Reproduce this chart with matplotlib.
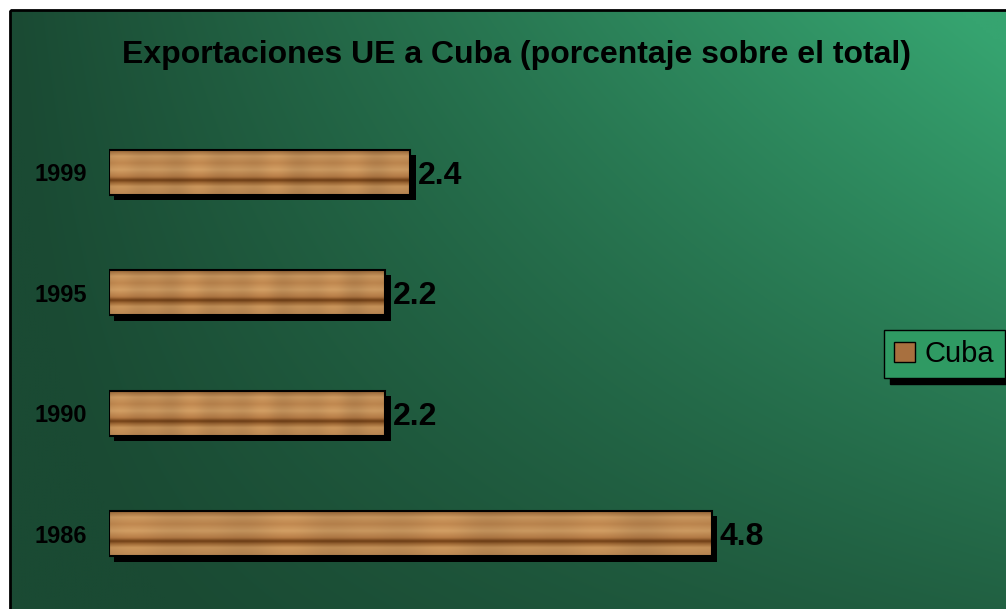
import numpy as np
import matplotlib
matplotlib.use("Agg")
import matplotlib.pyplot as plt
from matplotlib.patches import Rectangle, Patch
import matplotlib.patheffects as pe

plt.rcParams['font.family'] = ['Liberation Sans', 'DejaVu Sans']

years = ["1986", "1990", "1995", "1999"]
values = [4.8, 2.2, 2.2, 2.4]
value_labels = ["4.8", "2.2", "2.2", "2.4"]
series_name = "Cuba"
title = "Exportaciones UE a Cuba (porcentaje sobre el total)"

W, H = 1006, 609
fig = plt.figure(figsize=(W / 100, H / 100), dpi=100)

# background panel with green gradient and black frame
bg = fig.add_axes([0, 0, 1, 1], zorder=-1)
bg.set_xlim(0, W)
bg.set_ylim(H, 0)
bg.axis("off")
gx = np.linspace(0, 1, 300)
gy = np.linspace(0, 1, 200)
X, Y = np.meshgrid(gx, gy)
t = np.clip(X * (1.05 - 0.75 * Y) - 0.05 * Y, 0, 1)
dark = np.array([0x1a, 0x4a, 0x33]) / 255
light = np.array([0x36, 0xa4, 0x70]) / 255
img = dark + (light - dark) * t[..., None]
bg.imshow(img, extent=[10, W + 2, H + 2, 10], aspect="auto", interpolation="bilinear")
bg.add_patch(Rectangle((10, 10), W, H, fill=False, edgecolor="black", linewidth=2))

# main chart
ax = fig.add_axes([109 / W, (H - 594) / H, (988 - 109) / W, (594 - 112) / H])
ax.patch.set_alpha(0)
pos = np.arange(len(years))
bh = 0.375
bars = ax.barh(pos, values, height=bh, color="#b07a45", edgecolor="none", zorder=2)
for b in bars:
    b.set_path_effects([pe.SimplePatchShadow(offset=(3.8, -3.8), shadow_rgbFace="black", alpha=1), pe.Normal()])

# wood-like texture inside each bar
ty = np.linspace(0, 1, 60)
stops_y = [0.0, 0.15, 0.3, 0.45, 0.6, 0.68, 0.74, 0.82, 1.0]
stops_c = np.array([[0x8a, 0x5a, 0x2e], [0xc4, 0x93, 0x5c], [0xb8, 0x82, 0x4c], [0xc9, 0x98, 0x60],
                    [0xb0, 0x78, 0x44], [0x6e, 0x3e, 0x16], [0x9a, 0x66, 0x34], [0xc2, 0x90, 0x58],
                    [0xb4, 0x82, 0x50]]) / 255
prof = np.stack([np.interp(ty, stops_y, stops_c[:, k]) for k in range(3)], axis=1)
tx = np.linspace(0, 1, 200)
wobble = 1 + 0.05 * np.sin(tx * 37) * np.cos(tx * 11)
tex = np.clip(prof[:, None, :] * wobble[None, :, None], 0, 1)
for b in bars:
    x0, y0, w, h = b.get_x(), b.get_y(), b.get_width(), b.get_height()
    im = ax.imshow(tex, extent=[x0, x0 + w, y0, y0 + h], aspect="auto", zorder=3, interpolation="bilinear")
    im.set_clip_path(b)
ax.barh(pos, values, height=bh, fill=False, edgecolor="black", linewidth=1.5, zorder=4)

for p, v, lab in zip(pos, values, value_labels):
    ax.text(v + 0.06, p - 0.03, lab, va="center", ha="left", fontsize=23, fontweight="bold", color="black")

ax.set_xlim(0, 7)
ax.set_ylim(-0.5, 3.5)
ax.set_yticks(pos)
ax.set_yticklabels(years, fontsize=17, fontweight="bold")
ax.tick_params(axis="y", length=0, pad=16)
ax.set_xticks([])
for s in ax.spines.values():
    s.set_visible(False)

fig.text(517 / W, 1 - 55 / H, title, ha="center", va="center", fontsize=23, fontweight="bold", color="black")

leg_handle = Patch(facecolor="#a8703f", edgecolor="black", label=series_name)
leg = fig.legend(handles=[leg_handle], loc="center left", bbox_to_anchor=(884 / W, 1 - 354 / H),
                 borderaxespad=0, fontsize=21, frameon=True, fancybox=False, borderpad=0.35,
                 handlelength=0.7, handleheight=0.7, handletextpad=0.35,
                 shadow={"color": "black", "alpha": 1, "ox": 4, "oy": -4})
leg.get_frame().set_facecolor("#2f9a63")
leg.get_frame().set_edgecolor("black")
leg.get_frame().set_linewidth(1.0)

fig.savefig("out.png", dpi=100)
